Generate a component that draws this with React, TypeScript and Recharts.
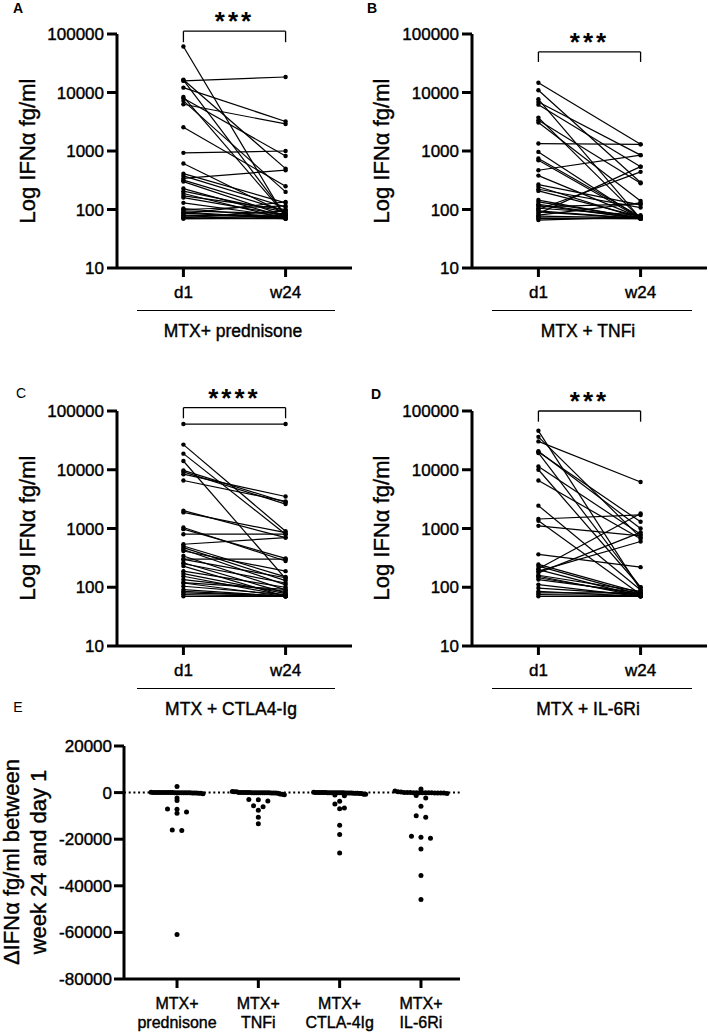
import React from 'react';
import { LineChart, Line, XAxis, YAxis, ReferenceLine, ScatterChart, Scatter } from 'recharts';

const FONT = '"Liberation Sans", Arial, Helvetica, sans-serif';

const timepoints = ['d1', 'w24'];
const logTicks = [10, 100, 1000, 10000, 100000];
const deltaTicks = [-80000, -60000, -40000, -20000, 0, 20000];
const groupNames = ['MTX+ prednisone', 'MTX + TNFi', 'MTX + CTLA4-Ig', 'MTX + IL-6Ri'];
const deltaCategories = [
  ['MTX+', 'prednisone'],
  ['MTX+', 'TNFi'],
  ['MTX+', 'CTLA-4Ig'],
  ['MTX+', 'IL-6Ri'],
];

// A: MTX + prednisone, IFNa fg/ml per patient at d1 and w24
const predD1 = [61000, 15800, 16300, 16500, 12100, 8400, 8000, 7200, 6300, 2550, 930, 610, 410, 375, 340, 317, 228, 206, 188, 171, 160, 130, 104, 95, 87, 80, 75, 70, 70, 72, 85, 90, 78, 100, 300];
const predW24 = [72, 18400, 80, 500, 3200, 80, 820, 200, 2900, 250, 1000, 85, 130, 110, 470, 95, 75, 90, 70, 100, 80, 75, 72, 85, 70, 75, 70, 72, 70, 95, 135, 70, 80, 115, 78];

// B: MTX + TNFi
const tnfD1 = [14700, 10900, 7660, 6890, 6200, 3720, 3350, 3060, 1340, 966, 743, 696, 469, 380, 267, 245, 222, 208, 145, 135, 123, 111, 100, 91, 85, 77, 70, 66, 95, 105, 72, 118, 80];
const tnfW24 = [1300, 290, 70, 850, 540, 70, 280, 140, 1300, 70, 75, 70, 850, 72, 120, 70, 108, 75, 70, 72, 70, 125, 440, 70, 540, 72, 70, 75, 70, 80, 70, 70, 130];

// C: MTX + CTLA4-Ig
const ctlaD1 = [60000, 26800, 18800, 14100, 9750, 9200, 8400, 6570, 2010, 1880, 1040, 974, 800, 539, 504, 472, 414, 340, 298, 261, 251, 229, 188, 154, 135, 118, 104, 91, 80, 70, 170, 120, 85, 75, 300, 440];
const ctlaW24 = [60000, 900, 800, 140, 2800, 2600, 3500, 2900, 700, 850, 280, 310, 800, 700, 150, 130, 188, 90, 145, 80, 118, 70, 100, 72, 85, 70, 75, 70, 72, 70, 78, 92, 70, 70, 300, 110];

// D: MTX + IL-6Ri
const il6D1 = [46000, 36300, 30400, 20600, 19300, 20000, 11400, 10000, 6570, 2450, 1350, 1450, 1110, 363, 245, 229, 206, 188, 176, 154, 145, 135, 111, 97, 85, 75, 70, 160, 200, 80];
const il6W24 = [90, 700, 6200, 1000, 100, 1300, 800, 100, 670, 90, 75, 1700, 750, 220, 80, 75, 1800, 600, 860, 70, 75, 80, 70, 75, 70, 72, 70, 85, 70, 80];

const PLOT_TOP = 34;
const E_PX_PER_UNIT = 233 / 100000;
const E_X_PX = 81.3;

function pairRows(d1: number[], w24: number[]) {
  const a: Record<string, number> = { t: 0 };
  const b: Record<string, number> = { t: 1 };
  d1.forEach((v, i) => {
    a['s' + i] = v;
    b['s' + i] = w24[i];
  });
  return [a, b];
}

// spread points sharing a row sideways, like a column scatter
function swarm(values: number[], cat: number) {
  const bins = new Map<number, number[]>();
  values.forEach((v) => {
    const k = Math.round((v * E_PX_PER_UNIT) / 4.5);
    if (!bins.has(k)) bins.set(k, []);
    bins.get(k)!.push(v);
  });
  const pts: { x: number; y: number }[] = [];
  bins.forEach((vs) => {
    vs.sort((p, q) => q - p);
    const n = vs.length;
    const step = n > 1 ? Math.min(9.5, 52 / (n - 1)) : 0;
    vs.forEach((v, i) => pts.push({ x: cat + ((i - (n - 1) / 2) * step) / E_X_PX, y: v }));
  });
  return pts;
}

const axisStyle = { stroke: '#000', strokeWidth: 3 };
const tickStyle = { fill: '#000', fontSize: 17, fontFamily: FONT, stroke: '#000', strokeWidth: 0.4 };

function Txt({ x, y, size, weight = 400, rotate = false, children, lh = 1, heavy = true }: any) {
  return (
    <div
      style={{
        position: 'absolute',
        left: x,
        top: y,
        transform: `translate(-50%, -50%)${rotate ? ' rotate(-90deg)' : ''}`,
        fontSize: size,
        fontWeight: weight,
        lineHeight: lh,
        whiteSpace: 'nowrap',
        textAlign: 'center',
        color: '#000',
        WebkitTextStroke: heavy && weight < 700 ? '0.4px #000' : undefined,
      }}
    >
      {children}
    </div>
  );
}

function PairedPanel({ left, top, width, axisW, plotH, d1, w24, stars, bracketTop, bracketLeg }: any) {
  const rows = pairRows(d1, w24);
  const height = PLOT_TOP + plotH + 77;
  const bracket = { stroke: '#000', strokeWidth: 1.3, ifOverflow: 'visible' as const };
  return (
    <div style={{ position: 'absolute', left, top }}>
      <LineChart width={width} height={height} data={rows} margin={{ top: PLOT_TOP, right: 2, bottom: 0, left: 0 }}>
        <XAxis
          dataKey="t"
          type="number"
          domain={[-0.65, 1.65]}
          ticks={[0, 1]}
          interval={0}
          allowDataOverflow
          tickFormatter={(v) => timepoints[v]}
          height={77}
          tickSize={9}
          tickMargin={9}
          axisLine={axisStyle}
          tickLine={axisStyle}
          tick={tickStyle}
        />
        <YAxis
          type="number"
          scale="log"
          domain={[10, 100000]}
          ticks={logTicks}
          interval={0}
          allowDataOverflow
          width={axisW}
          tickSize={10}
          tickMargin={3}
          axisLine={axisStyle}
          tickLine={axisStyle}
          tick={tickStyle}
        />
        <ReferenceLine
          segment={[{ x: 0, y: bracketTop }, { x: 1, y: bracketTop }]}
          {...bracket}
          label={{ value: stars, position: 'top', offset: 1, fill: '#000', fontSize: 26, fontWeight: 700, fontFamily: FONT, letterSpacing: 3 }}
        />
        <ReferenceLine segment={[{ x: 0, y: bracketTop }, { x: 0, y: bracketLeg }]} {...bracket} />
        <ReferenceLine segment={[{ x: 1, y: bracketTop }, { x: 1, y: bracketLeg }]} {...bracket} />
        {d1.map((_: number, i: number) => (
          <Line
            key={i}
            dataKey={'s' + i}
            stroke="#000"
            strokeWidth={1.2}
            dot={{ r: 2.2, fill: '#000', stroke: '#000', strokeWidth: 0 }}
            activeDot={false}
            isAnimationActive={false}
          />
        ))}
      </LineChart>
    </div>
  );
}

function CatTick({ x, y, payload }: any) {
  const [l1, l2] = deltaCategories[payload.value];
  return (
    <text textAnchor="middle" fill="#000" fontSize={16} fontFamily={FONT} stroke="#000" strokeWidth={0.4}>
      <tspan x={x} y={y + 21}>{l1}</tspan>
      <tspan x={x} y={y + 40}>{l2}</tspan>
    </text>
  );
}

function DeltaDot({ cx, cy }: any) {
  return <circle cx={cx} cy={cy} r={2.5} fill="#000" />;
}

export default function App() {
  const deltas = [
    [predD1, predW24],
    [tnfD1, tnfW24],
    [ctlaD1, ctlaW24],
    [il6D1, il6W24],
  ].map(([d1, w24], c) => swarm(d1.map((v, i) => w24[i] - v), c));

  const underline = (x: number, y: number, w: number) => (
    <div style={{ position: 'absolute', left: x, top: y, width: w, borderTop: '1.4px solid #000' }} />
  );

  return (
    <div style={{ position: 'absolute', left: 0, top: 0, width: 709, height: 1032, background: '#fff', fontFamily: FONT }}>
      <PairedPanel left={0} top={0} width={354} axisW={117} plotH={234} d1={predD1} w24={predW24} stars="***" bracketTop={111600} bracketLeg={72400} />
      <PairedPanel left={354} top={0} width={355} axisW={118} plotH={234} d1={tnfD1} w24={tnfW24} stars="***" bracketTop={49300} bracketLeg={33300} />
      <PairedPanel left={0} top={377} width={354} axisW={117} plotH={235} d1={ctlaD1} w24={ctlaW24} stars="****" bracketTop={113800} bracketLeg={75100} />
      <PairedPanel left={354} top={377} width={355} axisW={118} plotH={235} d1={il6D1} w24={il6W24} stars="***" bracketTop={100000} bracketLeg={65800} />

      <div style={{ position: 'absolute', left: 0, top: 730 }}>
        <ScatterChart width={462} height={302} margin={{ top: 16, right: 2, bottom: 0, left: 0 }}>
          <XAxis
            dataKey="x"
            type="number"
            domain={[-0.652, 3.48]}
            ticks={[0, 1, 2, 3]}
            interval={0}
            allowDataOverflow
            height={53}
            tickSize={9}
            tickMargin={0}
            axisLine={axisStyle}
            tickLine={axisStyle}
            tick={(p: any) => <CatTick {...p} />}
          />
          <YAxis
            dataKey="y"
            type="number"
            domain={[-80000, 20000]}
            ticks={deltaTicks}
            interval={0}
            allowDataOverflow
            width={124}
            tickSize={10}
            tickMargin={2}
            axisLine={axisStyle}
            tickLine={axisStyle}
            tick={tickStyle}
          />
          <ReferenceLine y={0} stroke="#000" strokeWidth={2} strokeDasharray="2 2.7" />
          {deltas.map((pts, i) => (
            <Scatter key={i} data={pts} shape={DeltaDot} isAnimationActive={false} />
          ))}
        </ScatterChart>
      </div>

      <Txt x={18} y={8} size={14} weight={700}>A</Txt>
      <Txt x={372} y={8} size={14} weight={700}>B</Txt>
      <Txt x={21} y={393} size={14} heavy={false}>C</Txt>
      <Txt x={376} y={394} size={14} weight={700}>D</Txt>
      <Txt x={18} y={707} size={14} heavy={false}>E</Txt>

      <Txt x={28} y={151} size={22} rotate>Log IFNα fg/ml</Txt>
      <Txt x={382} y={151} size={22} rotate>Log IFNα fg/ml</Txt>
      <Txt x={28} y={528} size={22} rotate>Log IFNα fg/ml</Txt>
      <Txt x={382} y={528} size={22} rotate>Log IFNα fg/ml</Txt>
      <Txt x={25} y={862} size={22} rotate lh="27px">
        ΔIFNα fg/ml between
        <br />
        week 24 and day 1
      </Txt>

      {underline(137, 310, 198)}
      {underline(492, 310, 200)}
      {underline(137, 688, 198)}
      {underline(492, 688, 200)}
      <Txt x={233} y={332} size={17.5}>{groupNames[0]}</Txt>
      <Txt x={588} y={332} size={17.5}>{groupNames[1]}</Txt>
      <Txt x={231} y={710} size={17.5}>{groupNames[2]}</Txt>
      <Txt x={588} y={710} size={17.5}>{groupNames[3]}</Txt>
    </div>
  );
}
